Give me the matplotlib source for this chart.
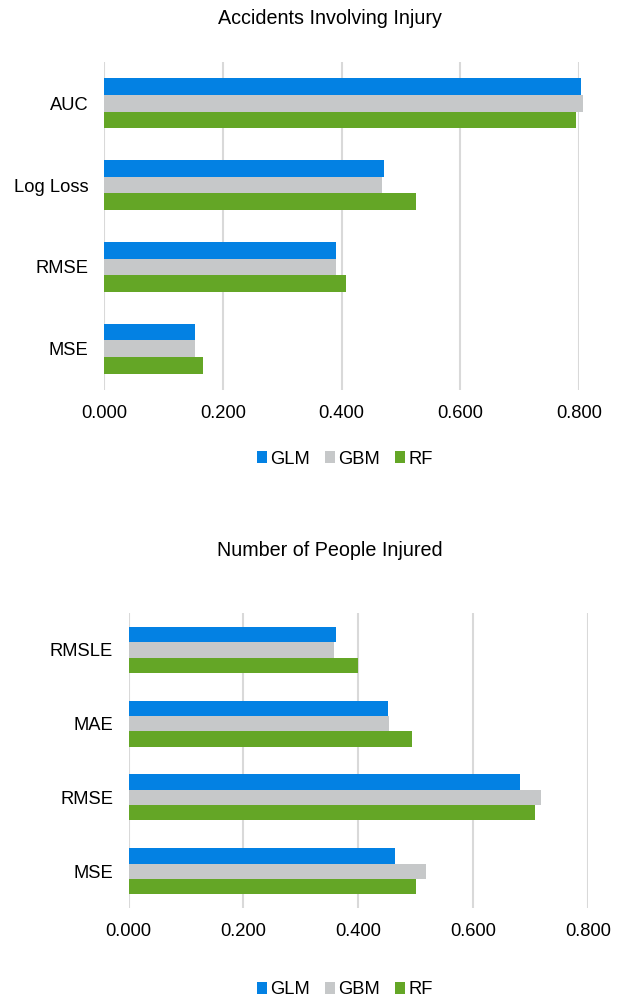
import numpy as np
import matplotlib
matplotlib.use("Agg")
import matplotlib.pyplot as plt
from matplotlib.patches import Patch

plt.rcParams['font.family'] = ['Liberation Sans', 'DejaVu Sans']

models = ['GLM', 'GBM', 'RF']
colors = ['#0381e3', '#c6c8c9', '#64a626']

# Accidents Involving Injury
cats_top = ['AUC', 'Log Loss', 'RMSE', 'MSE']
glm_top = [0.803, 0.471, 0.391, 0.153]
gbm_top = [0.806, 0.469, 0.390, 0.153]
rf_top = [0.795, 0.525, 0.408, 0.166]

# Number of People Injured
cats_bot = ['RMSLE', 'MAE', 'RMSE', 'MSE']
glm_bot = [0.361, 0.451, 0.681, 0.464]
gbm_bot = [0.357, 0.454, 0.719, 0.518]
rf_bot = [0.399, 0.494, 0.708, 0.501]

xticks = [0.0, 0.2, 0.4, 0.6, 0.8]

fig = plt.figure(figsize=(6.19, 10.02), dpi=100)
ax1 = fig.add_axes([0.168, 0.6108, 0.7674, 0.3273])
ax2 = fig.add_axes([0.2076, 0.0938, 0.7423, 0.2944])


def draw(ax, cats, series):
    y = np.arange(len(cats))
    h = 0.207
    for i, (vals, c) in enumerate(zip(series, colors)):
        ax.barh(y + (i - 1) * h, vals, height=h, color=c, clip_on=False, zorder=3)
    ax.set_ylim(len(cats) - 0.5, -0.5)
    ax.set_xlim(0, 0.8)
    ax.set_yticks(y)
    ax.set_yticklabels(cats, fontsize=13.2)
    ax.set_xticks(xticks)
    ax.set_xticklabels(['%.3f' % t for t in xticks], fontsize=13.2)
    ax.tick_params(length=0, pad=11)
    for s in ax.spines.values():
        s.set_visible(False)
    ax.grid(axis='x', color='#d9d9d9', linewidth=1.5, zorder=0)
    ax.set_axisbelow(True)


draw(ax1, cats_top, [glm_top, gbm_top, rf_top])
draw(ax2, cats_bot, [glm_bot, gbm_bot, rf_bot])

fig.text(0.533, 1 - 18 / 1002, 'Accidents Involving Injury', ha='center', va='center', fontsize=14.2)
fig.text(0.533, 1 - 550 / 1002, 'Number of People Injured', ha='center', va='center', fontsize=14.2)

handles = [Patch(facecolor=c, label=m) for m, c in zip(models, colors)]
for yy in [1 - 459 / 1002, 1 - 990 / 1002]:
    fig.legend(handles=handles, loc='center', bbox_to_anchor=(0.557, yy), ncol=3,
               frameon=False, fontsize=13.2, handlelength=0.55, handleheight=0.55,
               handletextpad=0.15, columnspacing=0.85)

fig.savefig('out.png', dpi=100)
